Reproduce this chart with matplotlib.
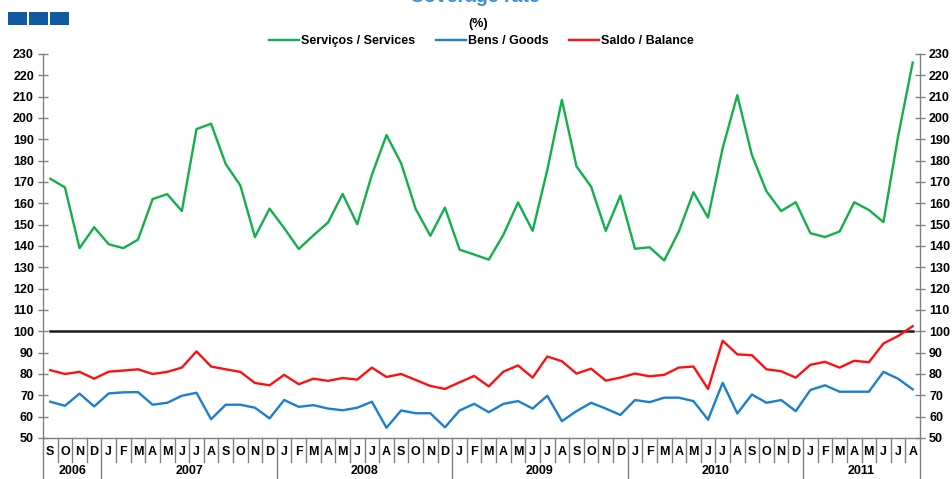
import matplotlib
matplotlib.use("Agg")
import matplotlib.pyplot as plt
import matplotlib.transforms as mtransforms
from matplotlib.patches import Rectangle

plt.rcParams['font.family'] = ['Liberation Sans', 'DejaVu Sans']

months = ["S", "O", "N", "D"] + ["J", "F", "M", "A", "M", "J", "J", "A", "S", "O", "N", "D"] * 4 + \
         ["J", "F", "M", "A", "M", "J", "J", "A"]
years = ["2006", "2007", "2008", "2009", "2010", "2011"]
year_counts = [4, 12, 12, 12, 12, 8]

services = [171.5, 167.5, 139.0, 148.8, 140.8, 139.0, 143.0, 162.0, 164.3, 156.4, 194.8, 197.3,
            178.4, 168.4, 144.2, 157.5, 148.4, 138.6, 145.0, 151.0, 164.4, 150.2, 173.4, 192.0,
            178.8, 157.3, 144.8, 158.0, 138.3, 136.0, 133.6, 145.3, 160.4, 147.1, 175.6, 208.5,
            177.3, 167.8, 147.1, 163.6, 138.7, 139.4, 133.2, 146.8, 165.2, 153.3, 185.9, 210.7,
            182.6, 165.6, 156.4, 160.5, 146.0, 144.2, 146.8, 160.5, 156.9, 151.2, 191.3, 226.0]
goods = [67.0, 65.1, 70.8, 64.8, 70.9, 71.4, 71.5, 65.6, 66.5, 69.8, 71.2, 58.8,
         65.6, 65.6, 64.2, 59.2, 67.8, 64.6, 65.4, 63.8, 63.0, 64.2, 67.0, 54.8,
         62.9, 61.6, 61.6, 55.0, 62.9, 66.0, 62.1, 66.0, 67.3, 63.8, 69.8, 57.9,
         62.6, 66.5, 63.8, 60.8, 67.8, 66.8, 68.9, 68.9, 67.3, 58.6, 75.9, 61.5,
         70.4, 66.5, 67.8, 62.6, 72.5, 74.7, 71.7, 71.7, 71.7, 81.0, 77.8, 72.8]
balance = [81.8, 80.0, 81.0, 77.8, 81.1, 81.6, 82.2, 80.0, 81.0, 83.0, 90.6, 83.5,
           82.2, 81.0, 75.8, 74.7, 79.6, 75.2, 77.8, 76.8, 78.1, 77.4, 83.0, 78.6,
           80.0, 77.2, 74.4, 73.0, 76.1, 79.1, 74.2, 81.1, 84.0, 78.3, 88.2, 86.0,
           80.2, 82.5, 76.9, 78.3, 80.2, 78.9, 79.6, 83.0, 83.5, 73.0, 95.6, 89.2,
           88.8, 82.2, 81.3, 78.3, 84.3, 85.7, 83.0, 86.2, 85.5, 94.3, 97.8, 102.4]
reference_level = 100
yticks = list(range(50, 231, 10))

W, H = 953, 479
fig = plt.figure(figsize=(W / 100, H / 100), dpi=100)
ax = fig.add_axes([43 / W, 1 - 438 / H, (920 - 43) / W, (438 - 54) / H])

x = list(range(len(months)))
c_green = '#10B04A'
c_blue = '#1A7FD0'
c_red = '#FF1010'
ax.plot(x, services, color=c_green, lw=1.7, label='Serviços / Services', zorder=3)
ax.plot(x, goods, color=c_blue, lw=1.7, label='Bens / Goods', zorder=3)
ax.plot(x, balance, color=c_red, lw=1.7, label='Saldo / Balance', zorder=4)
ax.plot([x[0], x[-1]], [reference_level, reference_level], color='#1a1a1a', lw=1.8, zorder=2)

ax.set_xlim(-0.5, len(months) - 0.5)
ax.set_ylim(50, 230)
ax.set_yticks(yticks)
ax.set_xticks([])
ax.tick_params(axis='y', which='both', direction='inout', length=7, width=1, color='#808080',
               labelsize=9, labelcolor='black', left=True, right=True, labelleft=True,
               labelright=True, pad=3)
for lab in ax.get_yticklabels():
    lab.set_fontweight('bold')
for s in ['left', 'right', 'bottom']:
    ax.spines[s].set_color('#808080')
    ax.spines[s].set_linewidth(1.0)
ax.spines['top'].set_visible(False)

trans = mtransforms.blended_transform_factory(ax.transData, ax.transAxes)
axh = 438 - 54
y_month_sep = -24 / axh
y_bottom = -45 / axh
y_month_lab = -14 / axh
y_year_lab = -33 / axh

# month separators
year_bounds = []
acc = 0
for c in year_counts:
    acc += c
    year_bounds.append(acc)
for i in range(1, len(months)):
    if i in year_bounds:
        ax.plot([i - 0.5, i - 0.5], [0, y_bottom], transform=trans, color='#808080', lw=1.0, clip_on=False)
    else:
        ax.plot([i - 0.5, i - 0.5], [0, y_month_sep], transform=trans, color='#808080', lw=1.0, clip_on=False)
for xx in [-0.5, len(months) - 0.5]:
    ax.plot([xx, xx], [0, y_bottom], transform=trans, color='#808080', lw=1.0, clip_on=False)

for i, m in enumerate(months):
    ax.text(i, y_month_lab, m, transform=trans, ha='center', va='center', fontsize=9,
            fontweight='bold', clip_on=False)
start = 0
for yr, c in zip(years, year_counts):
    ax.text(start + (c - 1) / 2, y_year_lab, yr, transform=trans, ha='center', va='center',
            fontsize=9, fontweight='bold', clip_on=False)
    start += c

leg = ax.legend(loc='center', bbox_to_anchor=(0.5, 1 + 13 / axh), ncol=3, frameon=False,
                fontsize=9, handlelength=2.4, handletextpad=0.2, columnspacing=1.6,
                borderaxespad=0.0, borderpad=0.0)
for t in leg.get_texts():
    t.set_fontweight('bold')

fig.text(478 / W, 1 - 24 / H, '(%)', ha='center', va='center', fontsize=9, fontweight='bold')
fig.text(475 / W, 1 + 3 / H, 'Coverage rate', ha='center', va='center', fontsize=14,
         fontweight='bold', color='#3A8FD8')

for k in range(3):
    fig.add_artist(Rectangle(((8 + k * 21) / W, 1 - 25 / H), 19 / W, 13 / H,
                             transform=fig.transFigure, color='#0F5AA0', lw=0))

fig.savefig('out.png', dpi=100)
